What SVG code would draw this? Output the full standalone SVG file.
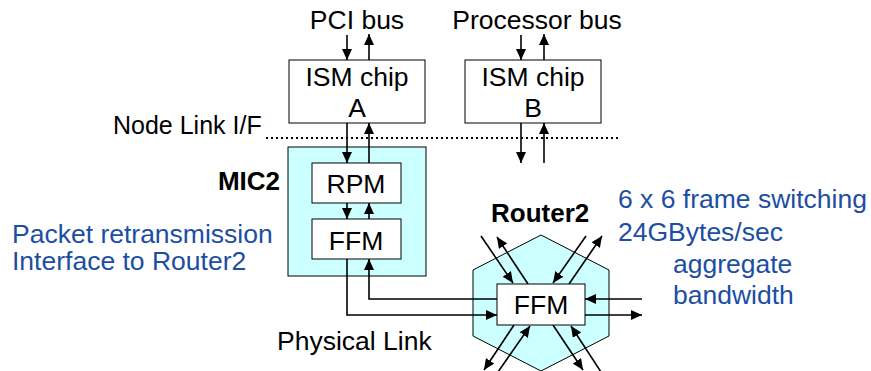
<svg xmlns="http://www.w3.org/2000/svg" width="871" height="371" viewBox="0 0 871 371">
<style>
text{font-family:"Liberation Sans",Arial,sans-serif;font-size:26.5px;fill:#000}
.b{font-weight:bold;font-size:26px}
.blue{fill:#1c4ea3}
.box{fill:#fff;stroke:#000;stroke-width:1}
.cy{fill:#ccffff;stroke:#000;stroke-width:1}
.ln{fill:none;stroke:#000;stroke-width:1.6}
</style>
<defs>
<marker id="ah" markerUnits="userSpaceOnUse" markerWidth="11" markerHeight="10" refX="11" refY="5" orient="auto">
<path d="M0,0 L11,5 L0,10 z" fill="#000"/>
</marker>
</defs>
<text x="357" y="29" text-anchor="middle">PCI bus</text>
<text x="537" y="29" text-anchor="middle">Processor bus</text>
<text x="113" y="134" style="font-size:25px">Node Link I/F</text>
<line x1="266" y1="138" x2="618" y2="138" stroke="#000" stroke-width="2" stroke-dasharray="2 3"/>
<g id="mic2">
<rect class="cy" x="288" y="147" width="138" height="129"/>
<text class="b" x="280" y="190" text-anchor="end">MIC2</text>
</g>
<g id="router2">
<polygon class="cy" points="541,235 609,270 609,336 541,371 473,336 473,270"/>
<text class="b" x="491" y="222">Router2</text>
</g>
<g id="ismA">
<rect class="box" x="289" y="60" width="136" height="63"/>
<text x="357" y="86" text-anchor="middle">ISM chip</text>
<text x="357" y="117" text-anchor="middle">A</text>
</g>
<g id="ismB">
<rect class="box" x="465" y="60" width="136" height="63"/>
<text x="533" y="86" text-anchor="middle">ISM chip</text>
<text x="533" y="117" text-anchor="middle">B</text>
</g>
<g id="rpm">
<rect class="box" x="312" y="163" width="89" height="40"/>
<text x="356" y="193" text-anchor="middle">RPM</text>
</g>
<g id="ffm1">
<rect class="box" x="312" y="219" width="89" height="40"/>
<text x="356" y="250" text-anchor="middle">FFM</text>
</g>
<g id="connectors">
<line class="ln" x1="347" y1="35" x2="347" y2="60" marker-end="url(#ah)"/>
<line class="ln" x1="369" y1="60" x2="369" y2="34" marker-end="url(#ah)"/>
<line class="ln" x1="521" y1="35" x2="521" y2="60" marker-end="url(#ah)"/>
<line class="ln" x1="544" y1="60" x2="544" y2="34" marker-end="url(#ah)"/>
<line class="ln" x1="347" y1="123" x2="347" y2="163" marker-end="url(#ah)"/>
<line class="ln" x1="369" y1="163" x2="369" y2="123" marker-end="url(#ah)"/>
<line class="ln" x1="521" y1="123" x2="521" y2="163" marker-end="url(#ah)"/>
<line class="ln" x1="544" y1="163" x2="544" y2="123" marker-end="url(#ah)"/>
<line class="ln" x1="347" y1="203" x2="347" y2="219" marker-end="url(#ah)"/>
<line class="ln" x1="369" y1="219" x2="369" y2="203" marker-end="url(#ah)"/>
<polyline class="ln" points="347,259 347,315 497,315" marker-end="url(#ah)"/>
<polyline class="ln" points="497,299 369,299 369,259" marker-end="url(#ah)"/>
<line class="ln" x1="642" y1="299" x2="585" y2="299" marker-end="url(#ah)"/>
<line class="ln" x1="585" y1="315" x2="642" y2="315" marker-end="url(#ah)"/>
<line class="ln" x1="481" y1="236" x2="513" y2="283" marker-end="url(#ah)"/>
<line class="ln" x1="528" y1="284" x2="497" y2="237" marker-end="url(#ah)"/>
<line class="ln" x1="586" y1="236" x2="553" y2="283" marker-end="url(#ah)"/>
<line class="ln" x1="569" y1="284" x2="602" y2="236" marker-end="url(#ah)"/>
<line class="ln" x1="514" y1="325" x2="484" y2="370" marker-end="url(#ah)"/>
<line class="ln" x1="498" y1="372" x2="530" y2="326" marker-end="url(#ah)"/>
<line class="ln" x1="553" y1="325" x2="583" y2="370" marker-end="url(#ah)"/>
<line class="ln" x1="601" y1="372" x2="571" y2="326" marker-end="url(#ah)"/>
</g>
<g id="ffm2">
<rect class="box" x="497" y="284" width="88" height="41"/>
<text x="541" y="314" text-anchor="middle">FFM</text>
</g>
<text class="blue" x="12" y="243">Packet retransmission</text>
<text class="blue" x="12" y="270">Interface to Router2</text>
<text class="blue" x="618" y="208">6 x 6 frame switching</text>
<text class="blue" x="618" y="241">24GBytes/sec</text>
<text class="blue" x="673" y="273">aggregate</text>
<text class="blue" x="673" y="304">bandwidth</text>
<text x="277" y="350">Physical Link</text>
</svg>
